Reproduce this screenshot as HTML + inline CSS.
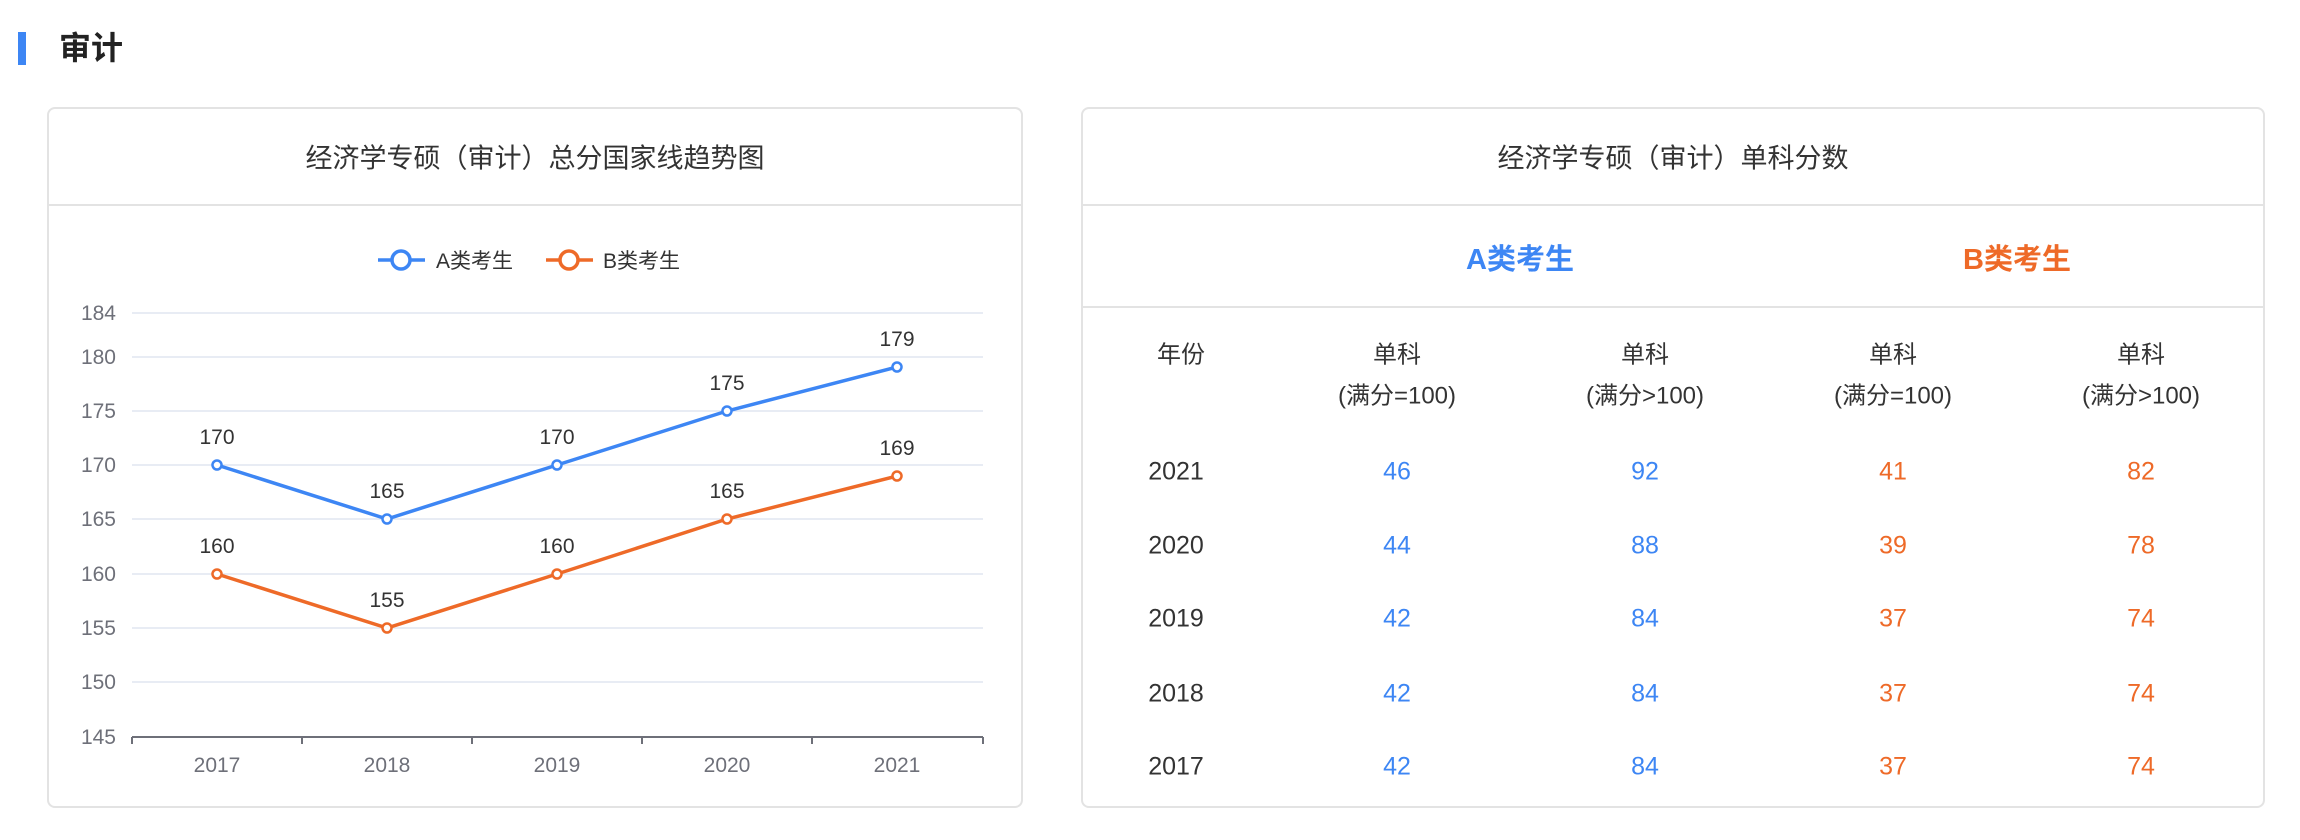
<!DOCTYPE html>
<html><head><meta charset="utf-8"><style>
body{margin:0;width:2300px;height:840px;background:#fff;font-family:"Liberation Sans","Noto Sans CJK SC",sans-serif;position:relative;overflow:hidden;color:#333}
.abs{position:absolute}
.card{position:absolute;border:2px solid #e3e3e3;border-radius:8px;box-sizing:border-box;background:#fff}
.c{position:absolute;transform:translate(-50%,-50%);white-space:nowrap;text-align:center}
.bl{color:#3d86f4}.or{color:#ee6a28}
</style></head><body>
<div class="abs" style="left:18px;top:32px;width:8px;height:33px;background:#3d86f4"></div>
<div class="abs" style="left:59px;top:28px;font-size:32px;font-weight:bold;color:#222;line-height:40px">审计</div>

<div class="card" style="left:47px;top:107px;width:976px;height:701px"></div>
<div class="abs" style="left:48px;top:204px;width:974px;height:2px;background:#e3e3e3"></div>
<div class="c" style="left:535px;top:156px;font-size:27px;color:#333">经济学专硕（审计）总分国家线趋势图</div>

<svg class="abs" style="left:0;top:0" width="1050" height="840">
<g stroke="#e0e6f1" stroke-width="1.5">
<line x1="132" x2="983" y1="313" y2="313"/><line x1="132" x2="983" y1="357" y2="357"/>
<line x1="132" x2="983" y1="411" y2="411"/><line x1="132" x2="983" y1="465" y2="465"/>
<line x1="132" x2="983" y1="519" y2="519"/><line x1="132" x2="983" y1="574" y2="574"/>
<line x1="132" x2="983" y1="628" y2="628"/><line x1="132" x2="983" y1="682" y2="682"/>
</g>
<g stroke="#6e7079" stroke-width="2">
<line x1="132" x2="983" y1="737" y2="737"/>
<line x1="132" x2="132" y1="737" y2="744"/><line x1="302" x2="302" y1="737" y2="744"/>
<line x1="472" x2="472" y1="737" y2="744"/><line x1="642" x2="642" y1="737" y2="744"/>
<line x1="812" x2="812" y1="737" y2="744"/><line x1="983" x2="983" y1="737" y2="744"/>
</g>
<g font-size="21" fill="#6e7079" text-anchor="end" font-family="Liberation Sans,sans-serif">
<text x="116" y="320">184</text><text x="116" y="364">180</text><text x="116" y="418">175</text>
<text x="116" y="472">170</text><text x="116" y="526">165</text><text x="116" y="581">160</text>
<text x="116" y="635">155</text><text x="116" y="689">150</text><text x="116" y="744">145</text>
</g>
<g font-size="21" fill="#6e7079" text-anchor="middle">
<text x="217" y="772">2017</text><text x="387" y="772">2018</text><text x="557" y="772">2019</text><text x="727" y="772">2020</text><text x="897" y="772">2021</text>
</g>
<polyline fill="none" stroke="#3d86f4" stroke-width="3.5" points="217,465 387,519 557,465 727,411 897,367"/>
<polyline fill="none" stroke="#ee6a28" stroke-width="3.5" points="217,574 387,628 557,574 727,519 897,476"/>
<g fill="#fff" stroke="#3d86f4" stroke-width="2.5">
<circle cx="217" cy="465" r="4.5"/><circle cx="387" cy="519" r="4.5"/><circle cx="557" cy="465" r="4.5"/><circle cx="727" cy="411" r="4.5"/><circle cx="897" cy="367" r="4.5"/>
</g>
<g fill="#fff" stroke="#ee6a28" stroke-width="2.5">
<circle cx="217" cy="574" r="4.5"/><circle cx="387" cy="628" r="4.5"/><circle cx="557" cy="574" r="4.5"/><circle cx="727" cy="519" r="4.5"/><circle cx="897" cy="476" r="4.5"/>
</g>
<g font-size="21" fill="#333" text-anchor="middle">
<text x="217" y="444">170</text><text x="387" y="498">165</text><text x="557" y="444">170</text><text x="727" y="390">175</text><text x="897" y="346">179</text>
<text x="217" y="553">160</text><text x="387" y="607">155</text><text x="557" y="553">160</text><text x="727" y="498">165</text><text x="897" y="455">169</text>
</g>
<line x1="378" x2="425" y1="260" y2="260" stroke="#3d86f4" stroke-width="3.5"/>
<circle cx="401" cy="260" r="9" fill="#fff" stroke="#3d86f4" stroke-width="3.5"/>
<text x="436" y="268" font-size="21" fill="#333">A类考生</text>
<line x1="546" x2="593" y1="260" y2="260" stroke="#ee6a28" stroke-width="3.5"/>
<circle cx="569" cy="260" r="9" fill="#fff" stroke="#ee6a28" stroke-width="3.5"/>
<text x="603" y="268" font-size="21" fill="#333">B类考生</text>
</svg>

<div class="card" style="left:1081px;top:107px;width:1184px;height:701px"></div>
<div class="abs" style="left:1082px;top:204px;width:1182px;height:2px;background:#e3e3e3"></div>
<div class="abs" style="left:1082px;top:306px;width:1182px;height:2px;background:#e3e3e3"></div>
<div class="c" style="left:1673px;top:156px;font-size:27px">经济学专硕（审计）单科分数</div>
<div class="c bl" style="left:1520px;top:257px;font-size:29px;font-weight:bold">A类考生</div>
<div class="c or" style="left:2017px;top:257px;font-size:29px;font-weight:bold">B类考生</div>

<div class="c" style="left:1181px;top:352px;font-size:24px">年份</div>
<div class="c" style="left:1397px;top:352px;font-size:24px">单科</div>
<div class="c" style="left:1645px;top:352px;font-size:24px">单科</div>
<div class="c" style="left:1893px;top:352px;font-size:24px">单科</div>
<div class="c" style="left:2141px;top:352px;font-size:24px">单科</div>
<div class="c" style="left:1397px;top:393px;font-size:24px">(满分=100)</div>
<div class="c" style="left:1645px;top:393px;font-size:24px">(满分&gt;100)</div>
<div class="c" style="left:1893px;top:393px;font-size:24px">(满分=100)</div>
<div class="c" style="left:2141px;top:393px;font-size:24px">(满分&gt;100)</div>

<div class="c" style="left:1176px;top:472px;font-size:25px">2021</div>
<div class="c bl" style="left:1397px;top:472px;font-size:25px">46</div>
<div class="c bl" style="left:1645px;top:472px;font-size:25px">92</div>
<div class="c or" style="left:1893px;top:472px;font-size:25px">41</div>
<div class="c or" style="left:2141px;top:472px;font-size:25px">82</div>

<div class="c" style="left:1176px;top:546px;font-size:25px">2020</div>
<div class="c bl" style="left:1397px;top:546px;font-size:25px">44</div>
<div class="c bl" style="left:1645px;top:546px;font-size:25px">88</div>
<div class="c or" style="left:1893px;top:546px;font-size:25px">39</div>
<div class="c or" style="left:2141px;top:546px;font-size:25px">78</div>

<div class="c" style="left:1176px;top:619px;font-size:25px">2019</div>
<div class="c bl" style="left:1397px;top:619px;font-size:25px">42</div>
<div class="c bl" style="left:1645px;top:619px;font-size:25px">84</div>
<div class="c or" style="left:1893px;top:619px;font-size:25px">37</div>
<div class="c or" style="left:2141px;top:619px;font-size:25px">74</div>

<div class="c" style="left:1176px;top:694px;font-size:25px">2018</div>
<div class="c bl" style="left:1397px;top:694px;font-size:25px">42</div>
<div class="c bl" style="left:1645px;top:694px;font-size:25px">84</div>
<div class="c or" style="left:1893px;top:694px;font-size:25px">37</div>
<div class="c or" style="left:2141px;top:694px;font-size:25px">74</div>

<div class="c" style="left:1176px;top:767px;font-size:25px">2017</div>
<div class="c bl" style="left:1397px;top:767px;font-size:25px">42</div>
<div class="c bl" style="left:1645px;top:767px;font-size:25px">84</div>
<div class="c or" style="left:1893px;top:767px;font-size:25px">37</div>
<div class="c or" style="left:2141px;top:767px;font-size:25px">74</div>
</body></html>
